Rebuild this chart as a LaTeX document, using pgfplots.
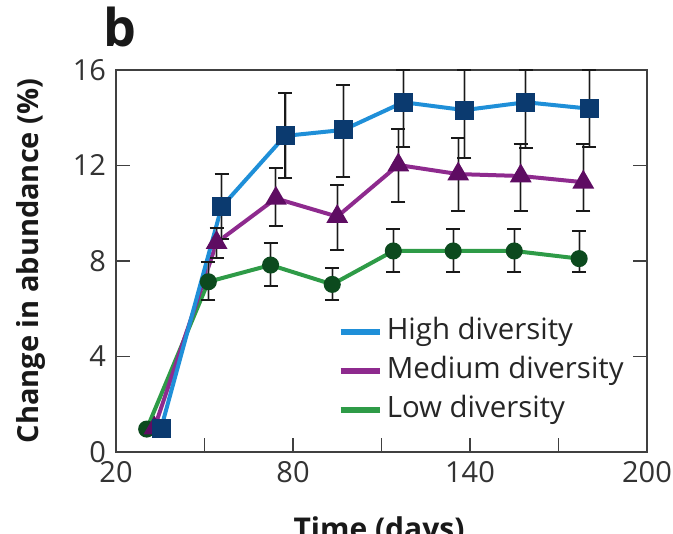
\documentclass[border=0pt]{standalone}
\usepackage{fontspec}
\setmainfont{Open Sans}
\usepackage{pgfplots}
\usepackage{pgfplotstable}
\pgfplotsset{compat=1.18}

\definecolor{hiline}{HTML}{1F8FD8}
\definecolor{himark}{HTML}{0B3A6F}
\definecolor{medline}{HTML}{8E2A8E}
\definecolor{medmark}{HTML}{5E0C62}
\definecolor{lowline}{HTML}{2E9B47}
\definecolor{lowmark}{HTML}{0C4A1E}

% columns: day, mean change, upper error, lower error
\pgfplotstableread{
x     y      ep    em
35.3  1.00   0     0
55.8  10.27  1.36  1.36
77.3  13.24  1.81  1.78
97.1  13.49  1.90  1.96
117.4 14.65  1.35  1.86
138.1 14.32  1.68  2.02
158.9 14.65  1.35  1.93
180.4 14.38  1.62  1.59
}\high
\pgfplotstableread{
x     y      ep    em
33.0  1.00   0     0
54.1  8.77   0.60  0.66
74.2  10.62  1.26  1.15
95.0  9.86   1.32  1.40
115.7 12.02  1.51  1.56
136.0 11.64  1.50  1.53
157.2 11.56  1.34  1.45
178.4 11.30  1.60  1.19
}\medium
\pgfplotstableread{
x     y      ep    em
30.4  0.96   0     0
51.3  7.13   0.82  0.76
72.4  7.83   0.94  0.86
93.3  7.02   0.67  0.65
114.0 8.42   0.92  0.87
134.3 8.42   0.92  0.87
155.0 8.42   0.92  0.87
177.0 8.10   1.17  0.55
}\low

\pgfplotsset{
  errhalo/.style={forget plot, draw=none, mark=none,
    skip coords between index={0}{1},
    error bars/.cd, y dir=both, y explicit, error mark=none,
    error bar style={black!45, line width=1.5pt, opacity=0.6}},
  errcore/.style={forget plot, draw=none, mark=none,
    skip coords between index={0}{1},
    error bars/.cd, y dir=both, y explicit,
    error bar style={black!90, line width=0.6pt},
    error mark options={black!90, line width=1pt, mark size=3.5pt, rotate=90}},
}

\begin{document}
\begin{tikzpicture}
\useasboundingbox (-58pt,-41pt) rectangle (278.5pt,226pt);
\clip (-58pt,-41pt) rectangle (278.5pt,226pt);
\begin{axis}[
  scale only axis, width=265.5pt, height=191pt,
  xmin=20, xmax=200, ymin=0, ymax=16,
  xtick={20,50,...,200}, xticklabels={20,,80,,140,,200},
  ytick={0,4,...,16},
  xtick pos=bottom, ytick pos=both, tick align=inside,
  major tick length=7pt,
  axis line style={black!75, line width=0.75pt},
  every tick/.style={black!75, line width=0.75pt},
  ticklabel style={font=\fontsize{14.5}{14.5}\selectfont, text=black!80},
  yticklabel style={xshift=-1.5pt},
  xticklabel style={yshift=-1pt},
  /pgf/number format/assume math mode=true,
  clip=false,
  legend image code/.code={\draw[#1] (0pt,0pt) -- (19.7pt,0pt);},
  legend cell align=left,
  legend style={draw=none, fill=none, at={(0.4177,0.212)}, anchor=west,
    inner sep=0pt, outer sep=0pt, row sep=6.5pt, column sep=2pt,
    font=\fontsize{14.7}{14.7}\selectfont, text=black!85,
    nodes={inner sep=0pt, text height=10pt, text depth=3pt}},
]
\addlegendimage{hiline, line width=2.8pt}
\addlegendentry{High diversity}
\addlegendimage{medline, line width=2.8pt}
\addlegendentry{Medium diversity}
\addlegendimage{lowline, line width=2.8pt}
\addlegendentry{Low diversity}

% series: lines with markers
\addplot[forget plot, lowline, line width=2pt, mark=*, mark size=3.25pt,
  mark options={lowmark, fill=lowmark}] table[x=x, y=y] {\low};
\addplot[forget plot, medline, line width=2pt, mark=triangle*, mark size=4.3pt,
  mark options={medmark, fill=medmark}] table[x=x, y=y] {\medium};
\addplot[forget plot, hiline, line width=2pt, mark=square*, mark size=3.75pt,
  mark options={himark, fill=himark}] table[x=x, y=y] {\high};

% error bars drawn on top
\addplot[errhalo] table[x=x, y=y, y error plus=ep, y error minus=em] {\low};
\addplot[errhalo] table[x=x, y=y, y error plus=ep, y error minus=em] {\medium};
\addplot[errhalo] table[x=x, y=y, y error plus=ep, y error minus=em] {\high};
\addplot[errcore] table[x=x, y=y, y error plus=ep, y error minus=em] {\low};
\addplot[errcore] table[x=x, y=y, y error plus=ep, y error minus=em] {\medium};
\addplot[errcore] table[x=x, y=y, y error plus=ep, y error minus=em] {\high};
\end{axis}

\node[anchor=base, font=\bfseries\fontsize{26}{26}\selectfont, text=black!90]
  at (1.75pt,202.5pt) {b};
\node[anchor=base, rotate=90, font=\bfseries\fontsize{14.5}{14.5}\selectfont, text=black!90]
  at (-39pt,95.5pt) {Change in abundance (\%)};
\node[anchor=base, font=\bfseries\fontsize{15}{15}\selectfont, text=black!90]
  at (131.5pt,-43.5pt) {Time (days)};
\end{tikzpicture}
\end{document}
